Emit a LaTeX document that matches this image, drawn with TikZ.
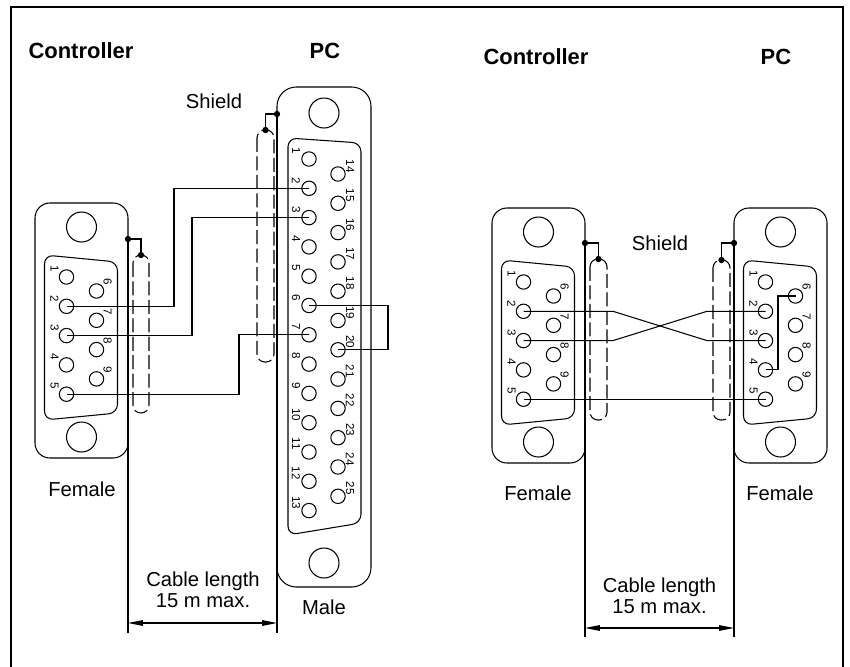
\documentclass[tikz,border=0pt]{standalone}
\usepackage{fontspec}
\setmainfont{Liberation Sans}
\usepackage{tikz}
\usetikzlibrary{arrows.meta}
\tikzstyle{shell} = [draw=black, line width=0.6pt, rounded corners=8.5pt]
\tikzstyle{bigshell} = [shell, rounded corners=11pt]
\tikzstyle{dshape} = [draw=black, line width=0.6pt, rounded corners=5pt]
\tikzstyle{hole} = [draw=black, line width=0.6pt]
\tikzstyle{pin} = [draw=black, line width=0.6pt, circle, inner sep=0pt, minimum size=8.2pt]
\tikzstyle{pinnum} = [font=\fontsize{6.6}{7}\selectfont, rotate=-90, inner sep=0pt]
\tikzstyle{wire} = [draw=black, line width=0.6pt]
\tikzstyle{shieldtube} = [draw=black, line width=0.6pt, dash pattern=on 8pt off 2.5pt, rounded corners=4.5pt]
\tikzstyle{dot} = [circle, fill=black, inner sep=0pt, minimum size=3.6pt]
\tikzstyle{title} = [font=\fontsize{12.5}{15}\selectfont\bfseries, inner sep=0pt]
\tikzstyle{lbl} = [font=\fontsize{11.5}{12}\selectfont, inner sep=0pt, align=center]
\tikzstyle{dimline} = [line width=0.6pt, >={Triangle[length=8.5pt,width=3.2pt]}, <->]
\tikzstyle{frame} = [line width=1.2pt]

\newcommand{\dbnine}[3]{%
  \draw[shell] ({#2-46.5},#3) rectangle ({#2+46.5},{#3+255});
  \draw[hole] (#2,{#3+24}) circle (15);
  \draw[hole] (#2,{#3+234}) circle (15);
  \draw[dshape] ({#2-37},{#3+52}) -- ({#2+36},{#3+59}) -- ({#2+36},{#3+210}) -- ({#2-37},{#3+217}) -- cycle;
  \foreach \i in {1,...,5} {
    \node[pin] (#1\i) at ({#2-15},{#3+74+29.3*(\i-1)}) {};
    \node[pinnum] (#1n\i) at ({#2-27},{#3+66+29.3*(\i-1)}) {\i};
  }
  \foreach \i in {6,...,9} {
    \node[pin] (#1\i) at ({#2+15},{#3+88+29.3*(\i-6)}) {};
    \node[pinnum] (#1n\i) at ({#2+26},{#3+79+29.3*(\i-6)}) {\i};
  }
}

\begin{document}
\begin{tikzpicture}[x=0.02cm, y=-0.02cm]
    \useasboundingbox (0,0) rectangle (850,667);
    \draw[frame] (11,667) -- (11,7) -- (843,7) -- (843,667);

    \node[title] (ctrll) at (81,51) {Controller};
    \node[title] (pcl) at (325,51) {PC};
    \node[title] (ctrlr) at (536,57) {Controller};
    \node[title] (pcr) at (776,57) {PC};

    \dbnine{cl}{81.5}{203}
    \dbnine{cr}{538.5}{208}
    \dbnine{pr}{780.5}{208}

    \draw[bigshell] (277,87) rectangle (371,587);
    \draw[hole] (324,113) circle (15);
    \draw[hole] (324,563) circle (15);
    \draw[dshape] (288,138) -- (361,143) -- (361,523) -- (288,535) -- cycle;
    \foreach \i in {1,...,13} {
        \node[pin] (pc\i) at (309,{159+29.3*(\i-1)}) {};
        \node[pinnum] (pcn\i) at (296,{151+29.3*(\i-1)}) {\i};
    }
    \foreach \i in {14,...,25} {
        \node[pin] (pc\i) at (338,{174+29.3*(\i-14)}) {};
        \node[pinnum] (pcn\i) at (350,{166+29.3*(\i-14)}) {\i};
    }

    \draw[shieldtube] (133,255) rectangle (149,413);
    \node[dot] (sl) at (141,255) {};
    \node[dot] (gl) at (128,239) {};
    \draw[wire] (sl.center) |- (gl.center);
    \draw[shieldtube] (257,130) rectangle (274,362);
    \node[dot] (sp) at (265.5,130) {};
    \node[dot] (gp) at (277,114) {};
    \draw[wire] (sp.center) |- (gp.center);
    \draw[shieldtube] (590,259) rectangle (607,420);
    \node[dot] (scr) at (598.5,259) {};
    \node[dot] (gcr) at (585,243) {};
    \draw[wire] (scr.center) |- (gcr.center);
    \draw[shieldtube] (713,260) rectangle (730,420);
    \node[dot] (spr) at (721.5,260) {};
    \node[dot] (gpr) at (734,243) {};
    \draw[wire] (spr.center) |- (gpr.center);

    \node[lbl] (shl) at (214,101) {Shield};
    \node[lbl] (shr) at (660,243) {Shield};

    \coordinate (k2) at (174,0);
    \coordinate (k3) at (192,0);
    \coordinate (k5) at (239,0);
    \coordinate (k6) at (388,0);
    \draw[wire] (cl2.center) -- (cl2.center -| k2) |- (pc2.center);
    \draw[wire] (cl3.center) -- (cl3.center -| k3) |- (pc3.center);
    \draw[wire] (cl5.center) -- (cl5.center -| k5) |- (pc7.center);
    \draw[wire] (pc6.center) -- (pc6.center -| k6) |- (pc20.center);

    \coordinate (xl) at (613,0);
    \coordinate (xr) at (707,0);
    \coordinate (k46) at (778,0);
    \draw[wire] (cr2.center) -- (cr2.center -| xl) -- (pr3.center -| xr) -- (pr3.center);
    \draw[wire] (cr3.center) -- (cr3.center -| xl) -- (pr2.center -| xr) -- (pr2.center);
    \draw[wire] (cr5.center) -- (pr5.center);
    \draw[wire] (pr4.center) -- (pr4.center -| k46) |- (pr6.center);

    \coordinate (el1) at (128,633);
    \coordinate (el2) at (277,633);
    \coordinate (dl1) at (128,623);
    \coordinate (dl2) at (277,623);
    \draw[wire] (gl.center) -- (el1);
    \draw[wire] (gp.center) -- (el2);
    \draw[dimline] (dl1) -- (dl2);
    \coordinate (er1) at (585,637);
    \coordinate (er2) at (734,637);
    \coordinate (dr1) at (585,628);
    \coordinate (dr2) at (734,628);
    \draw[wire] (gcr.center) -- (er1);
    \draw[wire] (gpr.center) -- (er2);
    \draw[dimline] (dr1) -- (dr2);

    \node[lbl] (fl) at (82,489) {Female};
    \node[lbl] (ml) at (324,607) {Male};
    \node[lbl] (lenl) at (203,590) {Cable length\\15 m max.};
    \node[lbl] (fcr) at (538,493) {Female};
    \node[lbl] (fpr) at (780,493) {Female};
    \node[lbl] (lenr) at (659.5,596) {Cable length\\15 m max.};
\end{tikzpicture}
\end{document}
